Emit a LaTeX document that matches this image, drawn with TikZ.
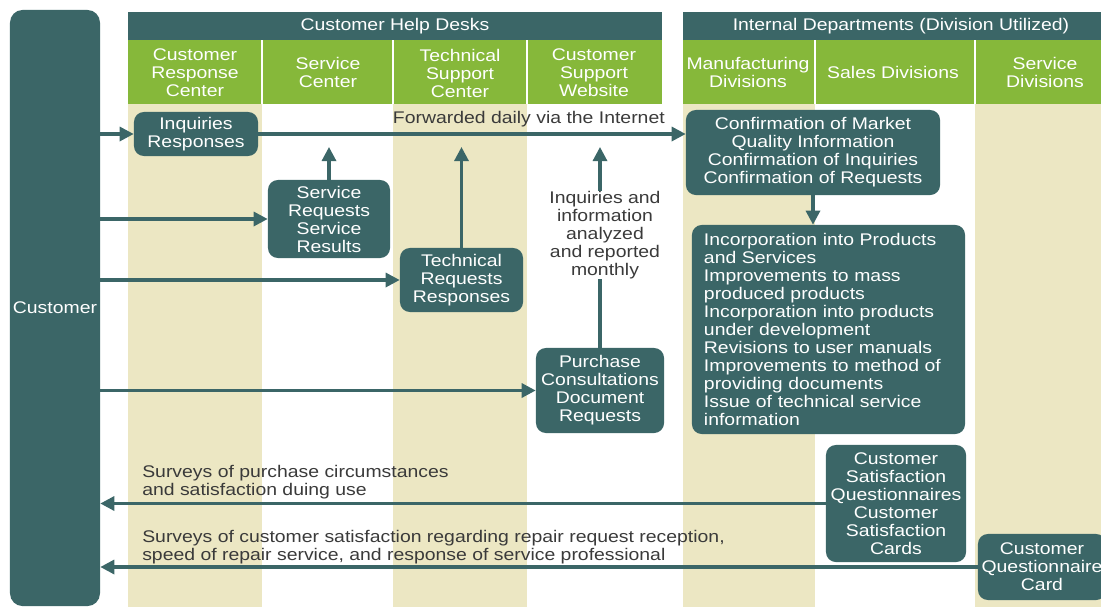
\documentclass[tikz,border=0pt]{standalone}
\usepackage{fontspec}
\setmainfont{Liberation Sans}[FakeStretch=1.15]
\usetikzlibrary{positioning}
\usetikzlibrary{arrows.meta}
\definecolor{deskteal}{HTML}{3B6667}
\definecolor{deskgreen}{HTML}{86B83A}
\definecolor{deskbeige}{HTML}{ECE7C3}
\definecolor{labelgray}{HTML}{3A3A3A}

\tikzset{
  infobox/.style={fill=deskteal, rounded corners=7pt, text=white, align=center, inner sep=0pt, font=\fontsize{12}{12.8}\selectfont},
  headtext/.style={text=white, align=center, inner sep=0pt, font=\fontsize{12}{12.8}\selectfont},
  flowline/.style={deskteal, line width=2.2pt},
  flowarrow/.style={flowline, -{Triangle[length=10pt,width=10pt]}},
  sidelabel/.style={text=labelgray, inner sep=0pt, font=\fontsize{12}{12.8}\selectfont},
}

\begin{document}
\begin{tikzpicture}[x=0.025cm, y=-0.025cm]
\useasboundingbox (0,0) rectangle (1101,607);
\clip (0,0) rectangle (1101,607);

% beige columns
\fill[deskbeige] (128,104) rectangle (262,607);
\fill[deskbeige] (393,104) rectangle (527,607);
\fill[deskbeige] (683,104) rectangle (815,607);
\fill[deskbeige] (975,104) rectangle (1101,607);

% help desk header
\fill[deskteal] (128,12) rectangle (662,40);
\fill[deskgreen] (128,40) rectangle (662,104);
\draw[white, line width=1.5pt] (262,40)--(262,104) (393,40)--(393,104) (527,40)--(527,104);
\node[headtext] (helpdesks) at (395,26) {Customer Help Desks};
\node[headtext] (crc) at (195,73) {Customer\\Response\\Center};
\node[headtext] (sc) at (328,72) {Service\\Center};
\node[headtext] (tsc) at (460,73) {Technical\\Support\\Center};
\node[headtext] (csw) at (594,73) {Customer\\Support\\Website};

% internal departments header
\fill[deskteal] (683,12) rectangle (1101,40);
\fill[deskgreen] (683,40) rectangle (1101,104);
\draw[white, line width=1.5pt] (815,40)--(815,104) (975,40)--(975,104);
\node[headtext] (internal) at (901,26) {Internal Departments (Division Utilized)};
\node[headtext] (mfg) at (748,72) {Manufacturing\\Divisions};
\node[headtext] (sales) at (893,72) {Sales Divisions};
\node[headtext] (svcdiv) at (1045,72) {Service\\Divisions};

% boxes
\node[infobox, rounded corners=9pt, minimum width=2.25cm, minimum height=14.9cm] (cust) at (55,308) {Customer};
\node[infobox, minimum width=3.1cm, minimum height=1.1cm] (inq) at (196,134) {Inquiries\\Responses};
\node[infobox, minimum width=3.05cm, minimum height=1.95cm] (svc) at (329,219) {Service\\Requests\\Service\\Results};
\node[infobox, minimum width=3.075cm, minimum height=1.6cm] (tech) at (461.5,280) {Technical\\Requests\\Responses};
\node[infobox, minimum width=3.2cm, minimum height=2.125cm] (purch) at (600,390.5) {Purchase\\Consultations\\Document\\Requests};
\node[infobox, minimum width=6.35cm, minimum height=2.125cm] (conf) at (813,152.5) {Confirmation of Market\\Quality Information\\Confirmation of Inquiries\\Confirmation of Requests};
\node[infobox, align=left, text width=6.225cm, inner xsep=0.3cm, minimum height=5.225cm] (incorp) at (828.5,329.5) {Incorporation into Products\\and Services\\Improvements to mass\\produced products\\Incorporation into products\\under development\\Revisions to user manuals\\Improvements to method of\\providing documents\\Issue of technical service\\information};
\node[infobox, minimum width=3.5cm, minimum height=2.925cm] (csq) at (896,503.5) {Customer\\Satisfaction\\Questionnaires\\Customer\\Satisfaction\\Cards};
\node[infobox, minimum width=3.2cm, minimum height=1.65cm] (cqc) at (1042,567) {Customer\\Questionnaire\\Card};

% labels
\node[sidelabel, align=center] (monthly) at (605,235) {Inquiries and\\information\\analyzed\\and reported\\monthly};
\node[sidelabel, align=left, anchor=south west] (survey1) at (142,499) {Surveys of purchase circumstances\\and satisfaction duing use};
\node[sidelabel, align=left, anchor=south west] (survey2) at (142,564) {Surveys of customer satisfaction regarding repair request reception,\\speed of repair service, and response of service professional};

\coordinate (fwdtop) at (0,147);

% customer to desks
\draw[flowarrow] (cust.east |- inq.west) -- (inq.west);
\draw[flowarrow] (cust.east |- svc.west) -- (svc.west);
\draw[flowarrow] (cust.east |- tech.west) -- (tech.west);
\draw[flowarrow] (cust.east |- purch.west) -- (purch.west);

% desks to internal
\draw[flowarrow] (inq.east) -- (inq.east -| conf.west) node[sidelabel, pos=0.633, above=4pt] (fwd) {Forwarded daily via the Internet};
\draw[flowarrow] (svc.north) -- (svc.north |- fwdtop);
\draw[flowarrow] (tech.north) -- (tech.north |- fwdtop);
\draw[flowline] (purch.north) -- (purch.north |- monthly.south);
\draw[flowarrow] (monthly.north -| purch.north) -- (purch.north |- fwdtop);
\draw[flowarrow] (conf.south) -- (conf.south |- incorp.north);

% surveys back to customer
\draw[flowarrow] (csq.west) -- (csq.west -| cust.east);
\draw[flowarrow] (cqc.west) -- (cqc.west -| cust.east);

\end{tikzpicture}
\end{document}
